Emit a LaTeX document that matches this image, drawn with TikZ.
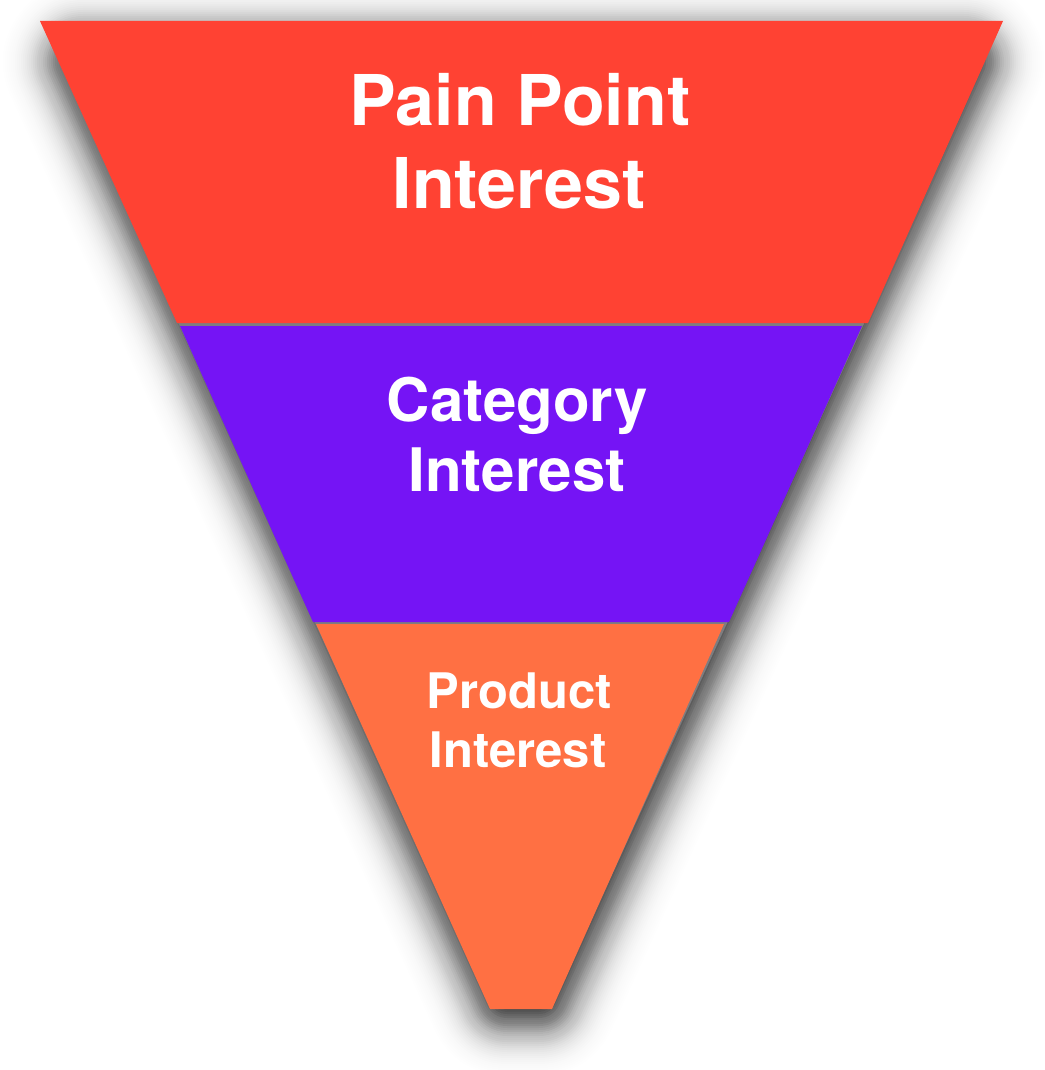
\documentclass[tikz,border=0pt]{standalone}
\usepackage{fontspec}
\setmainfont{TeX Gyre Heros}
\definecolor{painred}{RGB}{255,66,51}
\definecolor{catpurple}{RGB}{117,20,245}
\definecolor{prodorange}{RGB}{255,112,67}
\definecolor{gapgray}{RGB}{125,125,128}
\tikzset{
  label/.style={text=white, font=\bfseries, inner sep=0pt, anchor=base},
  shadowlayer/.style={draw=black, fill=black, line join=round}
}
\begin{document}
\begin{tikzpicture}[x=1pt,y=-1pt]
\useasboundingbox (0,0) rectangle (1044,1070);
% soft drop shadow: eroded funnel, dilated in layers with gaussian weights
\foreach \r in {0,2,...,90} {
  \pgfmathsetmacro{\op}{0.102*exp(-\r*\r/1650)}
  \pgfmathsetmacro{\lw}{max(2*\r,0.1)}
  \path[shadowlayer, opacity=\op, line width=\lw pt, shift={(2,10)}]
    (81,52) -- (962,52) -- (537,986) -- (505,986) -- cycle;
}
% base (shows as thin gray seams between the bands)
\fill[gapgray] (41,22) -- (1002,22) -- (551,1008) -- (491,1008) -- cycle;
% sections
\fill[painred] (40,21) -- (1003,21) -- (868,323) -- (177,323) -- cycle;
\fill[catpurple] (180,326) -- (862,326) -- (729,622) -- (313,622) -- cycle;
\fill[prodorange] (316,624) -- (724,624) -- (552,1009) -- (490,1009) -- cycle;
% labels
\node[label, font=\fontsize{70}{83}\selectfont\bfseries] (pain1) at (520,125) {Pain Point};
\node[label, font=\fontsize{70}{83}\selectfont\bfseries] (pain2) at (519,208) {Interest};
\node[label, font=\fontsize{60}{70}\selectfont\bfseries] (cat1) at (517.5,421) {Category};
\node[label, font=\fontsize{60}{70}\selectfont\bfseries] (cat2) at (517,491) {Interest};
\node[label, font=\fontsize{49}{60}\selectfont\bfseries] (prod1) at (519,708) {Product};
\node[label, font=\fontsize{49}{60}\selectfont\bfseries] (prod2) at (518,767) {Interest};
\end{tikzpicture}
\end{document}
